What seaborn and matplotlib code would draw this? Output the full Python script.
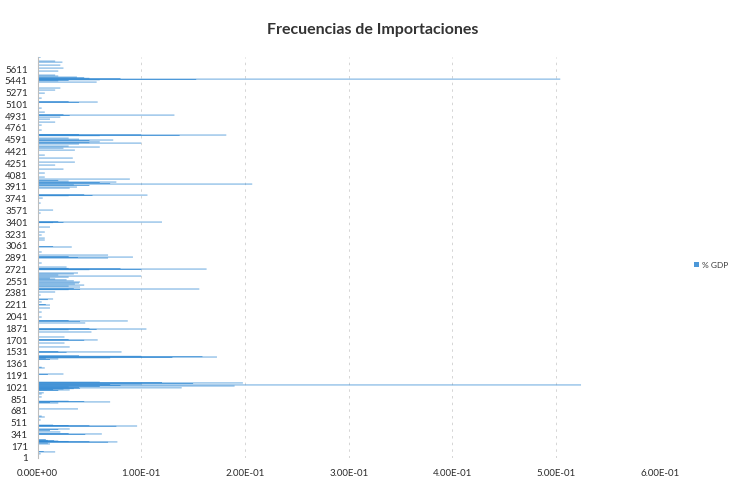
import numpy as np
import pandas as pd
import matplotlib
matplotlib.use("Agg")
import matplotlib.pyplot as plt
import seaborn as sns

# Product codes (category index) and their import frequency as share of GDP
codes = [
    60, 88, 95, 203, 215, 228, 232, 236, 240, 245, 250, 255, 265,
    340, 347, 355, 376, 395, 410, 419, 458, 462, 466, 470, 475,
    549, 592, 605, 708, 794, 800, 809, 815, 820, 881, 924, 940,
    975, 982, 990, 995, 1000, 1006, 1012, 1018, 1025, 1032, 1039, 1046, 1054, 1060, 1068,
    1075, 1083, 1090, 1095, 1205, 1212, 1299, 1310, 1420, 1429, 1440,
    1445, 1450, 1457, 1462, 1468, 1475, 1525, 1530, 1535, 1602, 1659,
    1698, 1703, 1710, 1746, 1818, 1850, 1856, 1861, 1866, 1948, 1972,
    1977, 1985, 2034, 2106, 2164, 2207, 2215, 2251, 2285, 2294, 2351,
    2395, 2428, 2433, 2438, 2443, 2467, 2480, 2495, 2510, 2525, 2539, 2555,
    2570, 2582, 2595, 2610, 2625, 2640, 2655, 2669,
    2716, 2721, 2726, 2731, 2736, 2755, 2813, 2885, 2894, 2899, 2905,
    2928, 2972, 3044, 3050, 3145, 3173, 3217, 3260, 3332, 3395, 3399,
    3404, 3409, 3534, 3577, 3678, 3750, 3783, 3788, 3793, 3798, 3894,
    3909, 3930, 3940, 3952, 3962, 3975, 3981, 3995, 4005, 4024, 4053, 4111,
    4168, 4226, 4269, 4327, 4370, 4442, 4470, 4486, 4500, 4530, 4543, 4548,
    4560, 4580, 4587, 4600, 4615, 4649, 4654, 4659, 4662,
    4668, 4731, 4803, 4846, 4889, 4918, 4942, 4947, 4952, 4990, 5048,
    5130, 5135, 5140, 5192, 5264, 5308, 5337, 5423, 5440, 5448, 5455, 5460, 5466,
    5472, 5478, 5485, 5495, 5510, 5524, 5582, 5625, 5668, 5711, 5726, 5783,
]
pct_gdp = [
    0.003, 0.017, 0.006, 0.012, 0.010, 0.068, 0.077, 0.050, 0.030, 0.020, 0.016, 0.010, 0.008,
    0.046, 0.062, 0.030, 0.022, 0.012, 0.020, 0.031, 0.076, 0.096, 0.050, 0.030, 0.015,
    0.003, 0.007, 0.004, 0.039, 0.020, 0.012, 0.070, 0.045, 0.030, 0.004, 0.004, 0.006,
    0.020, 0.031, 0.015, 0.025, 0.035, 0.041, 0.139, 0.040, 0.030, 0.060, 0.190, 0.080, 0.524, 0.070, 0.100,
    0.150, 0.198, 0.120, 0.060, 0.010, 0.025, 0.007, 0.004, 0.012, 0.020, 0.008,
    0.070, 0.130, 0.173, 0.159, 0.100, 0.040, 0.028, 0.081, 0.020, 0.031, 0.026,
    0.045, 0.058, 0.030, 0.026, 0.052, 0.030, 0.057, 0.105, 0.050, 0.046, 0.041,
    0.087, 0.030, 0.004, 0.004, 0.012, 0.012, 0.008, 0.004, 0.010, 0.015, 0.003,
    0.017, 0.030, 0.041, 0.156, 0.035, 0.041, 0.030, 0.045, 0.036, 0.040, 0.041, 0.035,
    0.028, 0.017, 0.012, 0.030, 0.100, 0.020, 0.035, 0.039,
    0.050, 0.100, 0.163, 0.080, 0.030, 0.028, 0.004, 0.068, 0.039, 0.092, 0.030,
    0.068, 0.004, 0.033, 0.015, 0.007, 0.007, 0.004, 0.007, 0.012, 0.015, 0.025,
    0.120, 0.020, 0.003, 0.015, 0.003, 0.005, 0.030, 0.053, 0.106, 0.045, 0.031,
    0.038, 0.050, 0.035, 0.207, 0.070, 0.060, 0.076, 0.030, 0.020, 0.089, 0.007, 0.007,
    0.025, 0.017, 0.036, 0.034, 0.007, 0.036, 0.025, 0.060, 0.030, 0.040, 0.100, 0.050,
    0.060, 0.050, 0.073, 0.040, 0.030, 0.060, 0.137, 0.182, 0.100,
    0.040, 0.004, 0.004, 0.017, 0.012, 0.022, 0.031, 0.132, 0.025, 0.007, 0.004,
    0.040, 0.058, 0.030, 0.004, 0.007, 0.017, 0.022, 0.057, 0.020, 0.030, 0.060, 0.153, 0.504,
    0.080, 0.050, 0.045, 0.038, 0.020, 0.017, 0.020, 0.025, 0.022, 0.024, 0.017, 0.003,
]
# Category labels shown on the vertical axis (every 170th code)
ytick_codes = [1, 171, 341, 511, 681, 851, 1021, 1191, 1361, 1531, 1701, 1871,
               2041, 2211, 2381, 2551, 2721, 2891, 3061, 3231, 3401, 3571, 3741,
               3911, 4081, 4251, 4421, 4591, 4761, 4931, 5101, 5271, 5441, 5611]
xtick_values = [0.0, 0.1, 0.2, 0.3, 0.4, 0.5, 0.6]
xtick_labels = ["0.00E+00", "1.00E-01", "2.00E-01", "3.00E-01",
                "4.00E-01", "5.00E-01", "6.00E-01"]

df = pd.DataFrame({"code": codes, "pct_gdp": pct_gdp})

sns.set_style("white")
plt.rcParams["font.family"] = ["Lato", "DejaVu Sans"]

fig = plt.figure(figsize=(7.33, 4.82), dpi=100)
ax = fig.add_axes([0.0512, 0.0498, 0.849, 0.832])

bar_color = "#2c86d2"
# thin bars (under one pixel) on the code axis; overlapping ones build up
min_gap = np.diff(np.unique(df["code"])).min()
bar_span = 12.0
sns.barplot(data=df, x="pct_gdp", y="code", orient="y", native_scale=True,
            errorbar=None, color=bar_color, width=bar_span / min_gap,
            saturation=1, linewidth=0, alpha=0.85, label="% GDP", ax=ax)
for patch in ax.patches:
    patch.set_snap(False)
if ax.get_legend() is not None:
    ax.get_legend().remove()

ax.set_xlim(0, 0.6)
ax.set_ylim(0.5, 5785)
ax.set_xticks(xtick_values)
ax.set_xticklabels(xtick_labels)
ax.set_yticks(ytick_codes)
ax.set_yticklabels([str(c) for c in ytick_codes])
ax.set_xlabel("")
ax.set_ylabel("")
ax.tick_params(axis="both", length=0, labelsize=7, labelcolor="#2b2b2b")
ax.tick_params(axis="x", pad=8)
ax.tick_params(axis="y", pad=7)

ax.grid(axis="x", color="#cfcfcf", linewidth=0.6, linestyle=(0, (3, 5)))
ax.set_axisbelow(True)
for side in ["top", "right", "bottom"]:
    ax.spines[side].set_visible(False)
ax.spines["left"].set_color("#bdbdbd")
ax.spines["left"].set_linewidth(0.8)

fig.text(0.508, 0.937, "Frecuencias de Importaciones", ha="center", va="center",
         fontsize=11.5, fontweight="bold", color="#333333")

handles, labels = ax.get_legend_handles_labels()
fig.legend(handles[:1], labels[:1], loc="center left", bbox_to_anchor=(0.937, 0.45),
           frameon=False, fontsize=6, handlelength=0.6, handleheight=0.6,
           handletextpad=0.3, labelcolor="#3a3a3a")

fig.savefig("out.png", dpi=100)
